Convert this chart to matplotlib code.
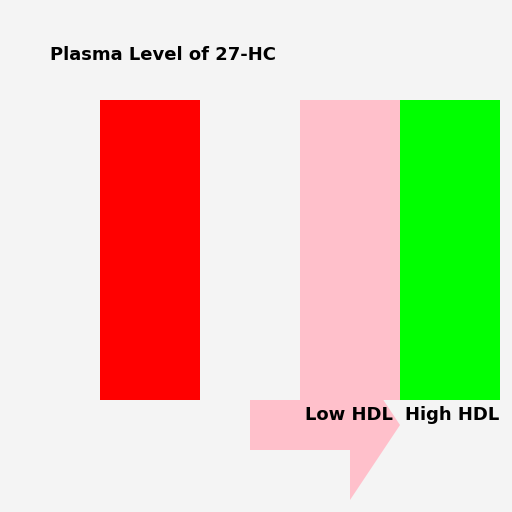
import matplotlib
matplotlib.use("Agg")
import matplotlib.pyplot as plt
from matplotlib.patches import Rectangle, FancyArrow

# data
groups = ["", "Low HDL", "High HDL"]
levels = [300, 300, 300]
colors = ["#ff0000", "#ffc0cb", "#00ff00"]
bar_left = [100, 300, 400]

fig = plt.figure(figsize=(5.12, 5.12), dpi=100)
fig.patch.set_facecolor("#f4f4f4")
ax = fig.add_axes([0, 0, 1, 1])
ax.set_facecolor("#f4f4f4")
ax.set_xlim(0, 512)
ax.set_ylim(512, 0)
ax.axis("off")

base = 400
for x, h, c, name in zip(bar_left, levels, colors, groups):
    ax.add_patch(Rectangle((x, base - h), 100, h, facecolor=c, edgecolor="none"))
    if name:
        ax.text(x + 5, base + 15, name, fontsize=13, fontweight="bold",
                ha="left", va="center")

# pink arrow below the bars
ax.add_patch(FancyArrow(250, 425, 150, 0, width=50, head_width=150,
                        head_length=50, length_includes_head=True,
                        facecolor="#ffc0cb", edgecolor="none", zorder=0))

ax.text(50, 55, "Plasma Level of 27-HC", fontsize=13, fontweight="bold",
        ha="left", va="center")

fig.savefig("out.png", dpi=100, facecolor=fig.get_facecolor())
